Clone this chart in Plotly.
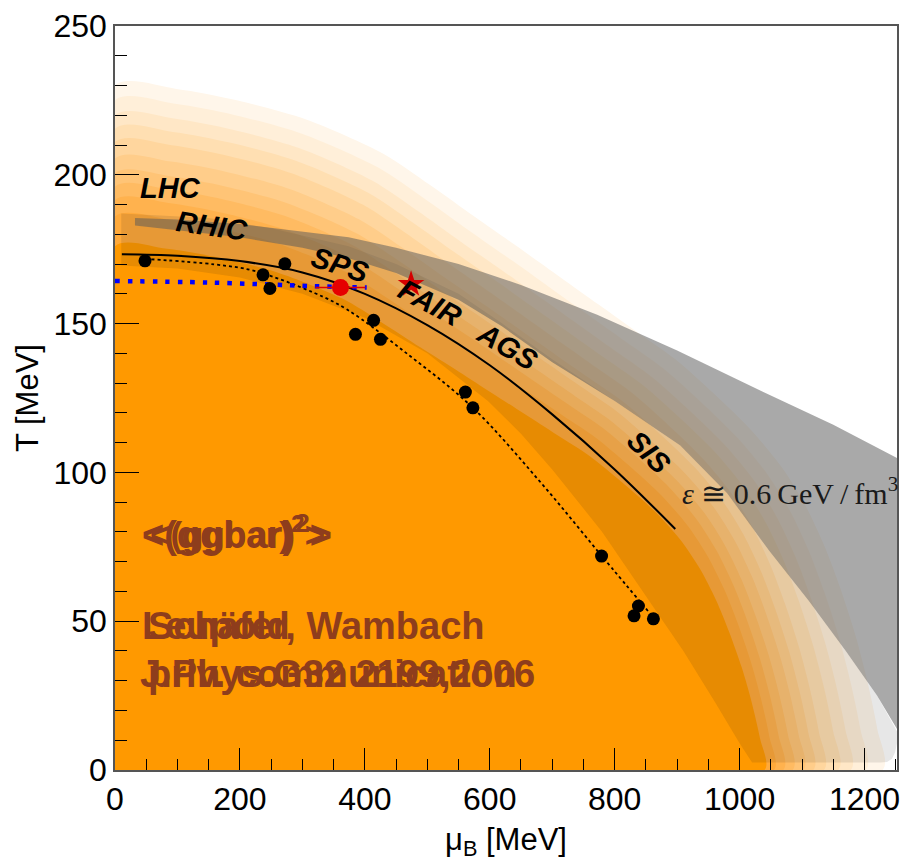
import plotly.graph_objects as go

# ---------------- data ----------------
# contour levels of the orange map (outer -> inner): T-intercept and muB-intercept [MeV]
level_T0 = [230, 225, 220, 215.5, 211, 205.5, 200.5, 196, 191.5, 186, 176]
level_mu0 = [1229, 1202, 1178, 1158, 1135, 1118, 1102, 1085, 1070, 1055, 1040]
level_colors = ["#FFF6EA", "#FFEFD9", "#FFE7C6", "#FFDFB2", "#FFD69E", "#FFCD8A",
                "#FFC476", "#FFBB62", "#FFB24E", "#FFA93A", "#FF9900"]
# normalised outline of a contour (mu/mu0, T/T0) read from the outermost level
shape_u = [0, 0.08, 0.16, 0.25, 0.35, 0.41, 0.47, 0.53, 0.58, 0.63, 0.68, 0.73, 0.78,
           0.83, 0.87, 0.90, 0.925, 0.945, 0.965, 0.98, 0.993, 1.0]
shape_v = [1.0, 0.995, 0.978, 0.95, 0.90, 0.855, 0.807, 0.76, 0.72, 0.68, 0.64, 0.60,
           0.55, 0.495, 0.44, 0.385, 0.325, 0.265, 0.195, 0.13, 0.06, 0.0]

# translucent dark band around the freeze-out region (upper edge, then lower edge)
bandA_up_mu = [10, 100, 150, 250, 374, 450, 550, 620, 700, 800, 905, 980, 1048, 1110,
               1170, 1220, 1252, 1252, 1249, 1244, 1236, 1225]
bandA_up_T = [187, 186, 185.5, 182, 176, 170, 160, 150, 138, 124, 109, 93, 73.5, 57,
              40, 25, 13, 9, 6, 3.8, 2.7, 2.5]
bandA_lo_mu = [10, 100, 200, 300, 400, 500, 597, 650, 700, 780, 852, 910, 960, 1000, 1020]
bandA_lo_T = [169.5, 168.5, 165.5, 160, 152, 140, 124, 113, 101, 80, 58, 40, 23, 9, 2.5]

# grey band epsilon ~ 0.6 GeV/fm^3
eps_up_mu = [32, 100, 200, 300, 374, 450, 550, 650, 772, 900, 1038, 1150, 1260]
eps_up_T = [185.5, 185, 183.5, 181, 179, 175.5, 170, 163, 153, 141, 127, 116, 104]
eps_lo_mu = [32, 100, 200, 300, 374, 450, 550, 620, 700, 800, 905, 980, 1048, 1110,
             1170, 1220, 1260]
eps_lo_T = [183, 181.5, 179, 175.5, 172, 167, 158, 149, 137, 124, 109, 93, 73.5, 57,
            40, 25, 11]

# solid freeze-out curve
solid_mu = [11, 100, 200, 300, 400, 500, 600, 700, 800, 897]
solid_T = [173.3, 172.8, 171, 167.2, 160, 149.5, 136, 119.5, 101, 81]

# dotted fit curve
dotted_mu = [58, 159, 223, 318, 371, 470, 573, 680, 779, 863]
dotted_T = [171.6, 169.9, 167.7, 160.4, 154.8, 139.5, 121.7, 97, 72, 51]

# freeze-out data points
pts_mu = [48, 237, 248, 272, 385, 414, 425, 561, 573, 779, 838, 831, 862]
pts_T = [171.1, 166.4, 161.8, 170.1, 146.4, 151.1, 144.7, 127.0, 121.7, 71.9, 55.1, 51.8, 50.8]

# blue dotted line (lattice)
blue_mu = [0, 150, 318, 403]
blue_T = [164.3, 163.8, 162.6, 162.1]

# red point with error and red star
red_mu, red_T, red_err = [361], [162.1], [40]
star_mu, star_T = [474], [163.2]

# accelerator labels: text, mu, T, angle
acc_text = ["LHC", "RHIC", "SPS", "FAIR", "AGS", "SIS"]
acc_mu = [89, 156, 361, 505, 629, 855]
acc_T = [195.6, 182.8, 169.8, 157, 142, 107]
acc_angle = [0, 8, 18, 28, 31, 45]

x_ticks = [0, 200, 400, 600, 800, 1000, 1200]
y_ticks = [0, 50, 100, 150, 200, 250]

# ---------------- figure ----------------
fig = go.Figure()

def area(xs, ys, col, shape="linear"):
    fig.add_trace(go.Scatter(x=xs, y=ys, fill="toself", fillcolor=col, mode="lines",
                             line=dict(width=0, shape=shape, smoothing=0.8),
                             hoverinfo="skip", showlegend=False))

for T0, m0, col in zip(level_T0, level_mu0, level_colors):
    xs = [0, 0] + [m0 * u for u in shape_u] + [m0 * 0.5, 0]
    ys = [0, T0 * 0.5] + [T0 * v for v in shape_v] + [0, 0]
    area(xs, ys, col, "spline")

area(bandA_up_mu + bandA_lo_mu[::-1], bandA_up_T + bandA_lo_T[::-1], "rgba(20,20,20,0.10)")
area(eps_up_mu + eps_lo_mu[::-1], eps_up_T + eps_lo_T[::-1], "rgba(90,90,90,0.52)")

fig.add_trace(go.Scatter(x=solid_mu, y=solid_T, mode="lines",
                         line=dict(color="black", width=2, shape="spline", smoothing=1.0),
                         hoverinfo="skip", showlegend=False))
fig.add_trace(go.Scatter(x=dotted_mu, y=dotted_T, mode="lines",
                         line=dict(color="black", width=1.8, dash="3px,3px", shape="spline"),
                         hoverinfo="skip", showlegend=False))
fig.add_trace(go.Scatter(x=blue_mu, y=blue_T, mode="lines",
                         line=dict(color="#0000FF", width=4.5, dash="4.5px,8px", shape="spline"),
                         hoverinfo="skip", showlegend=False))
fig.add_trace(go.Scatter(x=pts_mu, y=pts_T, mode="markers",
                         marker=dict(color="black", size=13), hoverinfo="skip", showlegend=False))
fig.add_trace(go.Scatter(x=red_mu, y=red_T, mode="markers",
                         error_x=dict(type="data", array=red_err, color="#E00000", thickness=1.5, width=0),
                         marker=dict(color="#E60000", size=17), hoverinfo="skip", showlegend=False))
fig.add_trace(go.Scatter(x=star_mu, y=star_T, mode="markers",
                         marker=dict(color="#D40000", size=20, symbol="star"),
                         hoverinfo="skip", showlegend=False))

for t, m, T, a in zip(acc_text, acc_mu, acc_T, acc_angle):
    fig.add_annotation(x=m, y=T, text="<b><i>%s</i></b>" % t, showarrow=False, textangle=a,
                       font=dict(family="Liberation Sans", size=29, color="black"))

fig.add_annotation(x=905, y=93.6, xanchor="left", yanchor="middle", showarrow=False,
                   text="<i>ε</i> ≅ 0.6\u2009GeV\u2009/\u2009fm<sup>3</sup>",
                   font=dict(family="Liberation Serif", size=30, color="#1a1a1a"))

brown = "#8E3D1C"
for txt, m, T, sz in [("<b><(ggbar)<sup>2</sup>></b>", 40, 80, 38),
                      ("<b><(ggbar)<sup>2</sup>></b>", 53, 80, 35),
                      ("<b>Schäfer, Wambach</b>", 50, 48.5, 38),
                      ("<b>Leupold</b>", 40, 48.5, 38),
                      ("<b>J.Phys.G32 2199,2006</b>", 37, 32.4, 38),
                      ("<b>priv. communication</b>", 50, 32.4, 38)]:
    fig.add_annotation(x=m, y=T, xanchor="left", yanchor="middle", showarrow=False,
                       text=txt, font=dict(family="Liberation Sans", size=sz, color=brown))

axis_common = dict(showline=True, mirror=True, linecolor="#555555", linewidth=1.5,
                   ticks="inside", tickcolor="black", tickwidth=1,
                   showgrid=False, zeroline=False,
                   tickfont=dict(family="Liberation Sans", size=32, color="black"))
fig.update_layout(
    width=908, height=863,
    margin=dict(l=115, r=8, t=22, b=93),
    paper_bgcolor="white", plot_bgcolor="white",
    xaxis=dict(range=[0, 1252], tickvals=x_ticks, ticklen=22,
               minor=dict(dtick=50, ticklen=11, ticks="inside", tickcolor="black"),
               title=dict(text="μ<sub>B</sub> [MeV]", font=dict(family="Liberation Sans", size=31, color="black"),
                          standoff=12),
               **axis_common),
    yaxis=dict(range=[0, 250], tickvals=y_ticks, ticklen=24,
               minor=dict(dtick=10, ticklen=12, ticks="inside", tickcolor="black"),
               title=dict(text="T [MeV]", font=dict(family="Liberation Sans", size=31, color="black"),
                          standoff=6),
               **axis_common),
)

fig.write_html("out.html")
